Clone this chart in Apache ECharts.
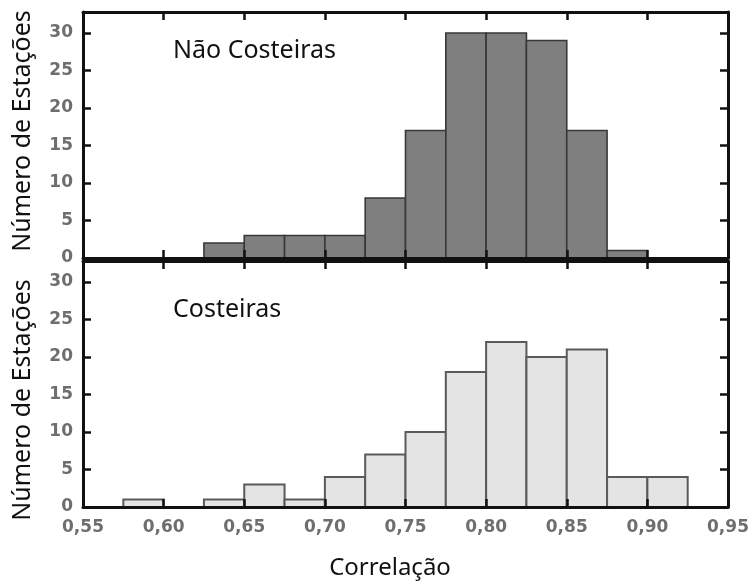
<!DOCTYPE html>
<html>
<head>
<meta charset="utf-8">
<script src="https://cdn.jsdelivr.net/npm/echarts@6/dist/echarts.min.js"></script>
<style>html,body{margin:0;padding:0;background:#fff}#c{width:753px;height:586px}</style>
</head>
<body>
<div id="c"></div>
<script>
// Histogram bins (left edges), width 0.025
const binLeft = [0.575, 0.600, 0.625, 0.650, 0.675, 0.700, 0.725, 0.750, 0.775, 0.800, 0.825, 0.850, 0.875, 0.900];
const binWidth = 0.025;
const nonCoastal = [0, 0, 2, 3, 3, 3, 8, 17, 30, 30, 29, 17, 1, 0];
const coastal = [1, 0, 1, 3, 1, 4, 7, 10, 18, 22, 20, 21, 4, 4];
const xTicks = ['0,55', '0,60', '0,65', '0,70', '0,75', '0,80', '0,85', '0,90', '0,95'];
const yTicks = ['0', '5', '10', '15', '20', '25', '30'];
const titleTop = 'Não Costeiras';
const titleBottom = 'Costeiras';
const yName = 'Número de Estações';
const xName = 'Correlação';

function toData(counts) {
  const out = [];
  counts.forEach((c, i) => { if (c > 0) out.push([binLeft[i], binLeft[i] + binWidth, c]); });
  return out;
}
function makeRender(fill, stroke, lw) {
  return function (params, api) {
    const p0 = api.coord([api.value(0), api.value(2)]);
    const p1 = api.coord([api.value(1), 0]);
    return {
      type: 'rect',
      shape: { x: p0[0], y: p0[1], width: p1[0] - p0[0], height: p1[1] - p0[1] },
      style: { fill: fill, stroke: stroke, lineWidth: lw }
    };
  };
}
const labelStyle = { fontFamily: 'DejaVu Sans', fontWeight: 'bold', fontSize: 17, color: '#6e6e6e' };
const lineStyle = { color: '#111', width: 3 };
const tickStyle = { inside: true, length: 8, lineStyle: { color: '#111', width: 2.5 } };

function xAx(grid, pos, showLabel) {
  return {
    type: 'value', gridIndex: grid, position: pos, min: 0.55, max: 0.95, interval: 0.05, z: 10,
    axisLine: { onZero: false, lineStyle: lineStyle },
    axisTick: tickStyle, splitLine: { show: false },
    axisLabel: Object.assign({ show: showLabel, margin: 12,
      formatter: v => xTicks[Math.round((v - 0.55) / 0.05)] }, labelStyle)
  };
}
function yAx(grid, pos, showLabel) {
  return {
    type: 'value', gridIndex: grid, position: pos, min: 0, max: 32.8, interval: 5, z: 10,
    axisLine: { onZero: false, lineStyle: lineStyle },
    axisTick: tickStyle, splitLine: { show: false },
    axisLabel: Object.assign({ show: showLabel, margin: 10, showMaxLabel: false,
      formatter: v => yTicks[Math.round(v / 5)] || '' }, labelStyle)
  };
}

const chart = echarts.init(document.getElementById('c'));
chart.setOption({
  animation: false,
  backgroundColor: '#fff',
  grid: [
    { left: 83, right: 25, top: 12, height: 246 },
    { left: 83, right: 25, top: 261, height: 246 }
  ],
  xAxis: [xAx(0, 'bottom', false), xAx(0, 'top', false), xAx(1, 'bottom', true), xAx(1, 'top', false)],
  yAxis: [yAx(0, 'left', true), yAx(0, 'right', false), yAx(1, 'left', true), yAx(1, 'right', false)],
  series: [
    { type: 'custom', xAxisIndex: 0, yAxisIndex: 0, renderItem: makeRender('#7f7f7f', '#383838', 1.6),
      data: toData(nonCoastal), encode: { x: [0, 1], y: 2 }, z: 2 },
    { type: 'custom', xAxisIndex: 2, yAxisIndex: 2, renderItem: makeRender('#e4e4e4', '#5a5a5a', 2),
      data: toData(coastal), encode: { x: [0, 1], y: 2 }, z: 2 }
  ],
  graphic: [
    { type: 'text', left: 173, top: 38, style: { text: titleTop, font: '25px "Noto Sans"', fill: '#111' } },
    { type: 'text', left: 173, top: 297, style: { text: titleBottom, font: '25px "Noto Sans"', fill: '#111' } },
    { type: 'text', x: 23, y: 131, rotation: Math.PI / 2,
      style: { text: yName, font: '25px "Noto Sans"', fill: '#111', align: 'center', verticalAlign: 'middle' } },
    { type: 'text', x: 23, y: 400, rotation: Math.PI / 2,
      style: { text: yName, font: '25px "Noto Sans"', fill: '#111', align: 'center', verticalAlign: 'middle' } },
    { type: 'text', x: 390, y: 568,
      style: { text: xName, font: '24px "Noto Sans"', fill: '#111', align: 'center', verticalAlign: 'middle' } }
  ]
});
</script>
</body>
</html>
